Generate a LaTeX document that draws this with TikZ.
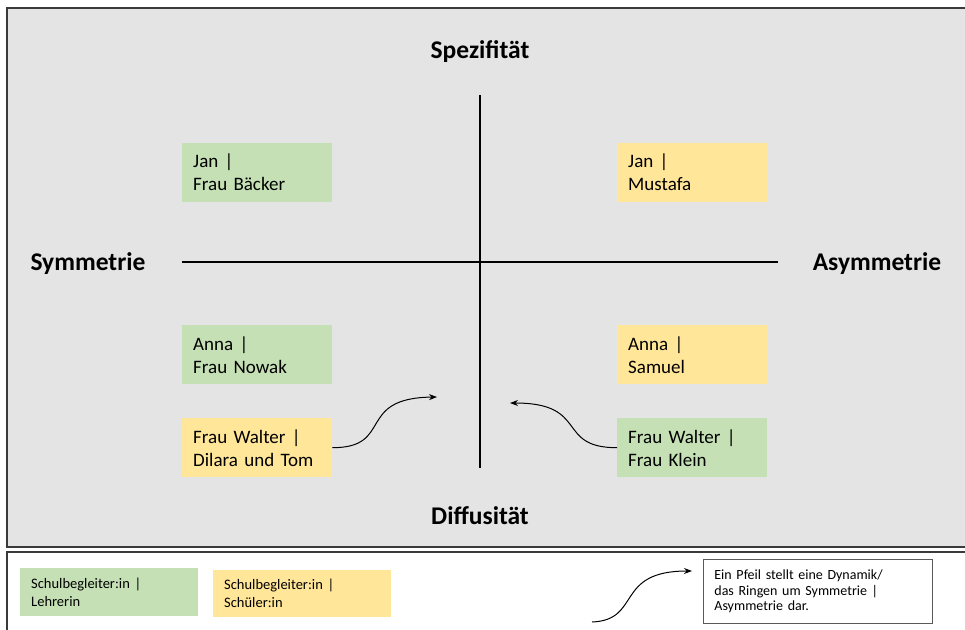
\documentclass[tikz,border=0pt]{standalone}
\usepackage{fontspec}
\setmainfont{Carlito}
\usetikzlibrary{arrows.meta}
\definecolor{bggray}{HTML}{E4E4E4}
\definecolor{framegray}{HTML}{3A3A3A}
\definecolor{boxgreen}{HTML}{C5E0B4}
\definecolor{boxyellow}{HTML}{FFE699}
\definecolor{notegray}{HTML}{5A5A5A}
\begin{document}
\begin{tikzpicture}[x=1pt,y=-1pt,
  pairbox/.style={anchor=north west, minimum height=59pt, text width=128pt,
    inner xsep=11pt, inner ysep=0pt, align=left,
    font=\fontsize{19}{23}\selectfont},
  legbox/.style={anchor=north west, minimum height=48pt, text width=156pt,
    inner xsep=11pt, inner ysep=0pt, align=left,
    font=\fontsize{14.5}{18}\selectfont},
  axislabel/.style={font=\fontsize{25.5}{30}\selectfont\bfseries},
  axisline/.style={line width=1.3pt, black},
  dyn/.style={line width=1pt, -{Stealth[length=8pt,width=6pt]}}]
\useasboundingbox (0,0) rectangle (965,629);
% frames
\draw[fill=bggray, draw=framegray, line width=2pt] (970,8) -- (7,8) -- (7,547) -- (970,547);
\draw[fill=white, draw=framegray, line width=2pt] (970,552) -- (7,552) -- (7,640);
% axes
\coordinate (hl) at (182,262);
\coordinate (hr) at (778,262);
\coordinate (vt) at (480,95);
\coordinate (vb) at (480,468);
\draw[axisline] (hl) -- (hr);
\draw[axisline] (vt) -- (vb);
% axis labels
\node[axislabel] (spez) at (480,52) {Spezifität};
\node[axislabel] (diff) at (480,516) {Diffusität};
\node[axislabel] (sym) at (88,264) {Symmetrie};
\node[axislabel] (asym) at (877,264) {Asymmetrie};
% pair boxes
\node[pairbox, fill=boxgreen] (b1) at (182,143) {Jan |\\Frau Bäcker};
\node[pairbox, fill=boxyellow] (b2) at (617,143) {Jan |\\Mustafa};
\node[pairbox, fill=boxgreen] (b3) at (182,325) {Anna |\\Frau Nowak};
\node[pairbox, fill=boxyellow] (b4) at (617,325) {Anna |\\Samuel};
\node[pairbox, fill=boxyellow] (b5) at (182,418) {Frau Walter |\\Dilara und Tom};
\node[pairbox, fill=boxgreen] (b6) at (617,418) {Frau Walter |\\Frau Klein};
% dynamics arrows
\coordinate (t5) at (437,397);
\coordinate (t6) at (510,403);
\draw[dyn] (b5.east) .. controls +(62,0) and (355,398) .. (t5);
\draw[dyn] (b6.west) .. controls +(-62,0) and (590,403) .. (t6);
% legend
\node[legbox, fill=boxgreen] (l1) at (20,568) {Schulbegleiter:in |\\Lehrerin};
\node[legbox, fill=boxyellow, minimum height=47pt] (l2) at (213,570) {Schulbegleiter:in |\\Schüler:in};
\node[anchor=north west, draw=notegray, line width=0.8pt, fill=white,
  minimum width=229pt, minimum height=64pt, text width=207pt, inner xsep=11pt,
  inner ysep=0pt, align=left, font=\fontsize{14}{15.5}\selectfont] (note) at (703,559)
  {Ein Pfeil stellt eine Dynamik/\\das Ringen um Symmetrie |\\Asymmetrie dar.};
\coordinate (ls) at (592,622);
\coordinate (le) at (692,571);
\draw[dyn] (ls) .. controls (642,620) and (614,571) .. (le);
\end{tikzpicture}
\end{document}
